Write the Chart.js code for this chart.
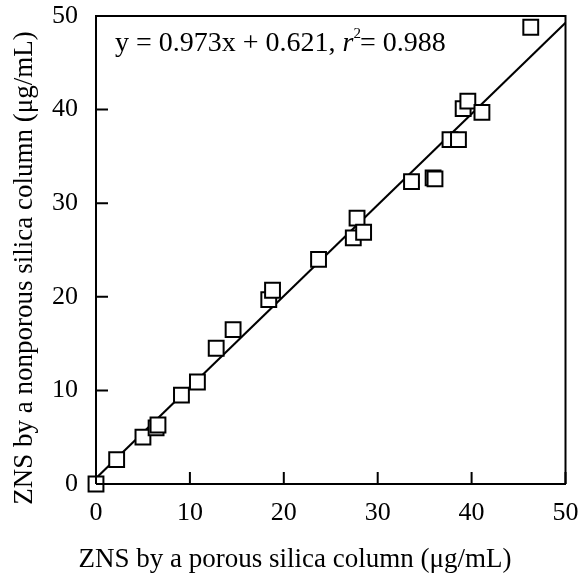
<!DOCTYPE html>
<html>
<head>
<meta charset="utf-8">
<script src="https://cdn.jsdelivr.net/npm/chart.js@4.4.1/dist/chart.umd.min.js"></script>
<style>
  body { margin: 0; background: #fff; }
  #wrap { width: 578px; height: 573px; position: relative; }
</style>
</head>
<body>
<div id="wrap"><canvas id="chart"></canvas></div>
<script>
// porous column (x) vs nonporous column (y), ug/mL
const porous = [0, 2.2, 5.0, 6.4, 6.6, 9.1, 10.8, 12.8, 14.6, 18.4, 18.8, 23.7,
  27.4, 27.8, 28.5, 33.6, 35.9, 36.1, 37.7, 38.6, 39.1, 39.6, 41.1, 46.3]
const nonporous = [0, 2.6, 5.0, 6.0, 6.3, 9.5, 10.9, 14.5, 16.5, 19.7, 20.7, 24.0,
  26.3, 28.4, 26.9, 32.3, 32.7, 32.6, 36.8, 36.8, 40.1, 40.9, 39.7, 48.8]

const slope = 0.973
const intercept = 0.621
const fitX = [0, 50]

const xTicks = [0, 10, 20, 30, 40, 50]
const yTicks = [0, 10, 20, 30, 40, 50]

const xTitle = 'ZNS by a porous silica column (\u03bcg/mL)'
const yTitle = 'ZNS by a nonporous silica column (\u03bcg/mL)'

const FONT = '"Liberation Serif", "Times New Roman", serif'

const points = porous.map((x, i) => ({ x: x, y: nonporous[i] }))
const fitLine = fitX.map(x => ({ x: x, y: slope * x + intercept }))

// frame, inward ticks, axis titles and equation
const decorations = {
  id: 'decorations',
  afterDraw(chart) {
    const ctx = chart.ctx
    const a = chart.chartArea
    const xs = chart.scales.x
    const ys = chart.scales.y
    ctx.save()
    ctx.strokeStyle = '#000'
    ctx.lineWidth = 2
    ctx.beginPath()
    ctx.moveTo(a.left, a.top)
    ctx.lineTo(a.right, a.top)
    ctx.lineTo(a.right, a.bottom)
    ctx.stroke()

    ctx.beginPath()
    xTicks.forEach(v => {
      const px = xs.getPixelForValue(v)
      ctx.moveTo(px, a.bottom)
      ctx.lineTo(px, a.bottom - 12)
    })
    yTicks.forEach(v => {
      const py = ys.getPixelForValue(v)
      ctx.moveTo(a.left, py)
      ctx.lineTo(a.left + 12, py)
    })
    ctx.stroke()

    ctx.fillStyle = '#000'
    ctx.font = '27px ' + FONT
    ctx.textAlign = 'center'
    ctx.textBaseline = 'alphabetic'
    ctx.fillText(xTitle, 295, 567)

    ctx.save()
    ctx.translate(32, 268)
    ctx.rotate(-Math.PI / 2)
    ctx.fillText(yTitle, 0, 0)
    ctx.restore()

    // y = 0.973x + 0.621, r^2 = 0.988
    ctx.textAlign = 'left'
    let x = a.left + 19
    const base = a.top + 35
    const part1 = 'y = ' + slope + 'x + ' + intercept + ', '
    ctx.font = '28px ' + FONT
    ctx.fillText(part1, x, base)
    x += ctx.measureText(part1).width
    ctx.font = 'italic 28px ' + FONT
    ctx.fillText('r', x, base)
    x += ctx.measureText('r').width
    ctx.font = '15px ' + FONT
    ctx.fillText('2', x, base - 13)
    x += ctx.measureText('2').width - 1
    ctx.font = '28px ' + FONT
    ctx.fillText('= 0.988', x, base)
    ctx.restore()
  }
}

new Chart(document.getElementById('chart'), {
  type: 'scatter',
  data: {
    datasets: [
      {
        label: 'samples',
        data: points,
        pointStyle: 'rect',
        pointRadius: 10.5,
        pointHoverRadius: 10.5,
        borderWidth: 2,
        borderColor: '#000',
        backgroundColor: '#fff',
        clip: false,
        order: 1
      },
      {
        label: 'fit',
        type: 'line',
        data: fitLine,
        borderColor: '#000',
        borderWidth: 2,
        pointRadius: 0,
        fill: false,
        order: 2
      }
    ]
  },
  options: {
    responsive: true,
    maintainAspectRatio: false,
    animation: false,
    layout: { padding: { left: 0, top: 16, right: 9, bottom: 0 } },
    plugins: {
      legend: { display: false },
      tooltip: { enabled: false }
    },
    scales: {
      x: {
        type: 'linear',
        min: 0,
        max: 50,
        afterFit: s => { s.height = 89; s.paddingLeft = 0; s.paddingRight = 0 },
        afterBuildTicks: s => { s.ticks = xTicks.map(v => ({ value: v })) },
        grid: { display: false, drawTicks: false },
        border: { display: true, color: '#000', width: 2 },
        ticks: { color: '#000', padding: 14, font: { family: FONT, size: 26 } }
      },
      y: {
        type: 'linear',
        min: 0,
        max: 50,
        afterFit: s => { s.width = 96; s.paddingTop = 0; s.paddingBottom = 0 },
        afterBuildTicks: s => { s.ticks = yTicks.map(v => ({ value: v })) },
        grid: { display: false, drawTicks: false },
        border: { display: true, color: '#000', width: 2 },
        ticks: { color: '#000', padding: 18, font: { family: FONT, size: 26 } }
      }
    }
  },
  plugins: [decorations]
})
</script>
</body>
</html>
